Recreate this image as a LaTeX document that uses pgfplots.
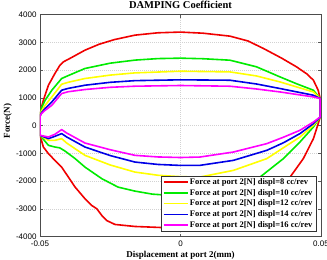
\documentclass[border=0pt]{standalone}
\usepackage{fontspec}
\setmainfont{Liberation Serif}
\newfontfamily\tickfont{Liberation Sans}
\usepackage{pgfplots}
\pgfplotsset{compat=1.18}
\definecolor{mgreen}{RGB}{0,235,0}
\definecolor{myellow}{RGB}{255,255,0}
\definecolor{mblue}{RGB}{0,0,230}
\definecolor{mmag}{RGB}{255,0,255}
\definecolor{mred}{RGB}{240,0,0}
\begin{document}
\begin{tikzpicture}
\begin{axis}[
  scale only axis, width=281pt, height=222pt,
  xmin=-0.05, xmax=0.05, ymin=-4000, ymax=4000,
  xtick={-0.05,0,0.05}, xticklabels={-0.05,0,0.05},
  ytick={-4000,-3000,-2000,-1000,0,1000,2000,3000,4000},
  yticklabels={-4000,-3000,-2000,-1000,0,1000,2000,3000,4000},
  scaled x ticks=false,
  tick label style={font=\tickfont\fontsize{8}{9}\selectfont},
  xticklabel style={anchor=base, yshift=-10pt},
  tick align=inside, major tick length=3pt,
  tick style={gray!70!black, line width=0.4pt},
  axis line style={gray!60!black, line width=0.5pt},
  grid=major,
  major grid style={gray!35, line width=0.3pt, dash pattern=on 1pt off 1pt},
  every axis title shift=0pt,
  title={DAMPING Coefficient},
  title style={font=\bfseries\fontsize{10.5}{12}\selectfont, at={(axis description cs:0.5,1)}, anchor=base, yshift=6pt},
  xlabel={Displacement at port 2(mm)},
  xlabel style={font=\bfseries\fontsize{9}{10}\selectfont, at={(axis description cs:0.5,0)}, anchor=base, yshift=-20.5pt},
  ylabel={Force(N)},
  ylabel style={font=\bfseries\fontsize{9}{10}\selectfont, at={(axis description cs:-0.1068,0.52)}, anchor=base},
  legend style={at={(axis description cs:1,0)}, anchor=south east, xshift=-5pt, yshift=5pt,
    draw=black!80, line width=0.4pt, fill=white,
    font=\bfseries\fontsize{8.5}{9}\selectfont,
    inner xsep=2pt, inner ysep=1pt,
    nodes={inner xsep=1.5pt, inner ysep=1.1pt, text height=6.5pt, text depth=2pt},
    cells={anchor=west}},
  legend image code/.code={\draw[#1, line width=1.6pt] (0pt,0pt) -- (24pt,0pt);},
  every axis plot/.append style={line width=1.6pt, line join=round},
]
\addplot[mred] coordinates {
(-0.05,332)(-0.0495,650)(-0.0488,913)(-0.047,1455)(-0.0447,1877)(-0.0429,2177)(-0.0417,2296)(-0.039,2440)(-0.034,2718)(-0.029,2930)(-0.0235,3100)(-0.0162,3260)(-0.008,3345)(0,3370)(0.008,3330)(0.0176,3224)(0.024,3050)(0.0295,2780)(0.036,2430)(0.0413,2116)(0.045,1860)(0.0473,1635)(0.049,1274)(0.0497,975)
(0.0497,310)(0.049,70)(0.0473,-470)(0.0437,-1191)(0.039,-1855)(0.035,-2480)(0.03,-3030)(0.025,-3380)(0.02,-3570)(0.01,-3680)(0,-3700)(-0.0162,-3635)(-0.0233,-3563)(-0.0263,-3419)(-0.028,-3238)(-0.0298,-2997)(-0.0316,-2877)(-0.034,-2635)(-0.0375,-2217)(-0.0399,-1856)(-0.0423,-1495)(-0.0435,-1372)(-0.0447,-1253)(-0.047,-1011)(-0.0488,-772)(-0.05,-350)(-0.05,332)};
\addlegendentry{Force at port 2[N] displ=8 cc/rev}
\addplot[mgreen] coordinates {
(-0.05,332)(-0.0495,620)(-0.0482,910)(-0.0458,1274)(-0.0423,1697)(-0.04,1800)(-0.034,2058)(-0.025,2250)(-0.0162,2360)(-0.008,2415)(0,2430)(0.008,2410)(0.0176,2357)(0.027,2120)(0.0354,1755)(0.0415,1500)(0.0473,1274)(0.0497,975)
(0.0497,310)(0.0473,-50)(0.0425,-592)(0.0366,-1191)(0.0283,-1855)(0.02,-2250)(0.01,-2480)(0,-2540)(-0.01,-2470)(-0.0162,-2361)(-0.0222,-2217)(-0.028,-1913)(-0.034,-1495)(-0.0375,-1191)(-0.0411,-917)(-0.043,-800)(-0.0447,-772)(-0.047,-711)(-0.05,-350)(-0.05,332)};
\addlegendentry{Force at port 2[N] displ=10 cc/rev}
\addplot[myellow] coordinates {
(-0.05,332)(-0.0495,520)(-0.0482,730)(-0.0458,1032)(-0.0423,1490)(-0.04,1560)(-0.034,1697)(-0.025,1820)(-0.0162,1900)(0,1960)(0.0176,1935)(0.027,1790)(0.0354,1574)(0.0473,1213)(0.0497,975)
(0.0497,310)(0.0473,10)(0.0425,-412)(0.0366,-800)(0.0307,-1191)(0.0188,-1614)(0.0069,-1855)(0,-1840)(-0.008,-1790)(-0.0162,-1675)(-0.025,-1420)(-0.034,-1072)(-0.0405,-628)(-0.0423,-470)(-0.0447,-531)(-0.047,-531)(-0.05,-350)(-0.05,332)};
\addlegendentry{Force at port 2[N] displ=12 cc/rev}
\addplot[mblue] coordinates {
(-0.05,332)(-0.0495,460)(-0.0482,614)(-0.0458,852)(-0.0423,1274)(-0.04,1340)(-0.034,1455)(-0.025,1560)(-0.0162,1620)(0,1650)(0.0176,1635)(0.027,1500)(0.0354,1336)(0.0473,1094)(0.0497,975)
(0.0497,310)(0.0473,70)(0.0425,-289)(0.0366,-620)(0.0307,-892)(0.0188,-1253)(0.0069,-1433)(0,-1435)(-0.008,-1400)(-0.0162,-1314)(-0.025,-1080)(-0.034,-772)(-0.0405,-410)(-0.0423,-289)(-0.0447,-386)(-0.047,-470)(-0.05,-350)(-0.05,332)};
\addlegendentry{Force at port 2[N] displ=14 cc/rev}
\addplot[mmag] coordinates {
(-0.05,332)(-0.0495,430)(-0.0482,550)(-0.0458,732)(-0.0423,1155)(-0.04,1220)(-0.034,1300)(-0.025,1380)(-0.0162,1420)(0,1445)(0.0176,1419)(0.027,1320)(0.0354,1213)(0.0473,1033)(0.0497,975)
(0.0497,310)(0.0473,130)(0.0425,-170)(0.0366,-420)(0.0307,-650)(0.0188,-953)(0.0069,-1133)(0,-1150)(-0.008,-1130)(-0.0162,-1072)(-0.025,-870)(-0.034,-628)(-0.0405,-267)(-0.0423,-145)(-0.0447,-314)(-0.047,-410)(-0.05,-350)(-0.05,332)};
\addlegendentry{Force at port 2[N] displ=16 cc/rev}
\end{axis}
\pgfresetboundingbox
\path[use as bounding box] ([shift={(-40pt,-23.2pt)}]current axis.south west) rectangle ([shift={(6pt,14.6pt)}]current axis.north east);
\end{tikzpicture}
\end{document}
